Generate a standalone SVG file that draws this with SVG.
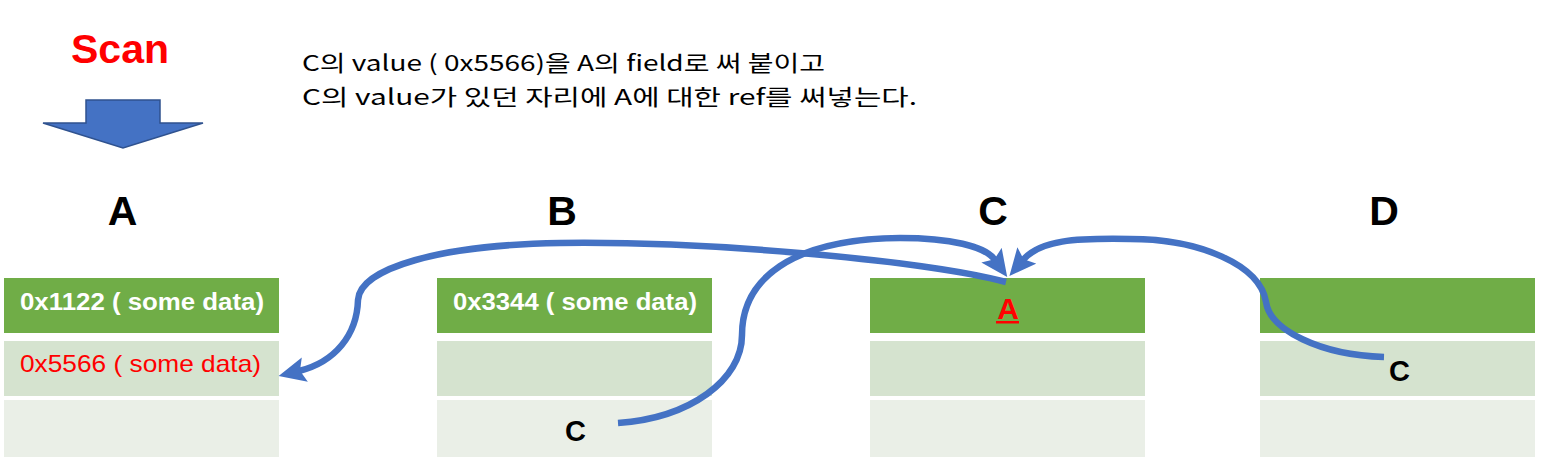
<svg xmlns="http://www.w3.org/2000/svg" width="1542" height="474" viewBox="0 0 1542 474">
<style>
.hdr{fill:#70AD47;stroke:#fff;stroke-width:2}
.r2{fill:#D5E3CF;stroke:#fff;stroke-width:2}
.r3{fill:#EAEFE7;stroke:#fff;stroke-width:2}
.col{font-family:"Liberation Sans",Arial,sans-serif;font-weight:bold;font-size:41px;fill:#000;text-anchor:middle}
.cell{font-family:"Liberation Sans",Arial,sans-serif;font-size:24px}
.wb{fill:#fff;font-weight:bold}
.lbl{font-family:"Liberation Sans",Arial,sans-serif;font-weight:bold;font-size:29px;fill:#000}
.kr{font-family:"Noto Sans CJK KR","Liberation Sans",sans-serif;font-size:22px;fill:#000}
.conn{fill:none;stroke:#4472C4;stroke-width:6.5}
</style>
<defs>
<marker id="ah" viewBox="0 0 27 25" refX="6" refY="12.5" markerWidth="27" markerHeight="25" markerUnits="userSpaceOnUse" orient="auto">
<path d="M0,0 L27,12.5 L0,25 L5,12.5 z" fill="#4472C4"/>
</marker>
</defs>

<g id="title">
<text x="120" y="63" font-family="'Liberation Sans',Arial,sans-serif" font-weight="bold" font-size="41" fill="#FF0000" text-anchor="middle">Scan</text>
</g>
<g id="scan-arrow">
<path d="M86,100 L160,100 L160,123 L203,123 L123,148 L43,123 L86,123 Z" fill="#4472C4" stroke="#2F528F" stroke-width="1.5"/>
</g>
<g id="note">
<text class="kr" x="302" y="71" textLength="523" lengthAdjust="spacingAndGlyphs">C의 value ( 0x5566)을 A의 field로 써 붙이고</text>
<text class="kr" x="302" y="105" textLength="615" lengthAdjust="spacingAndGlyphs">C의 value가 있던 자리에 A에 대한 ref를 써넣는다.</text>
</g>

<g id="obj-A">
<text class="col" x="122.5" y="225">A</text>
<rect class="hdr" x="3" y="277" width="277" height="57"/>
<rect class="r2" x="3" y="340" width="277" height="57"/>
<rect class="r3" x="3" y="399" width="277" height="59"/>
<text class="cell wb" x="20" y="310" textLength="244" lengthAdjust="spacingAndGlyphs">0x1122 ( some data)</text>
<text class="cell" x="20" y="372" fill="#FF0000" textLength="241" lengthAdjust="spacingAndGlyphs">0x5566 ( some data)</text>
</g>

<g id="obj-B">
<text class="col" x="562" y="225">B</text>
<rect class="hdr" x="436" y="277" width="277" height="57"/>
<rect class="r2" x="436" y="340" width="277" height="57"/>
<rect class="r3" x="436" y="399" width="277" height="59"/>
<text class="cell wb" x="453" y="310" textLength="244" lengthAdjust="spacingAndGlyphs">0x3344 ( some data)</text>
<text class="lbl" x="565" y="441">C</text>
</g>

<g id="obj-C">
<text class="col" x="993" y="225">C</text>
<rect class="hdr" x="869" y="277" width="277" height="57"/>
<rect class="r2" x="869" y="340" width="277" height="57"/>
<rect class="r3" x="869" y="399" width="277" height="59"/>
<text x="1008" y="319" font-family="'Liberation Sans',Arial,sans-serif" font-weight="bold" font-size="30" fill="#FF0000" text-anchor="middle">A</text>
<rect x="996" y="321" width="23" height="2.5" fill="#FF0000"/>
</g>

<g id="obj-D">
<text class="col" x="1384" y="225">D</text>
<rect class="hdr" x="1259" y="277" width="277" height="57"/>
<rect class="r2" x="1259" y="340" width="277" height="57"/>
<rect class="r3" x="1259" y="399" width="277" height="59"/>
<text class="lbl" x="1389" y="381">C</text>
</g>

<g id="connectors">
<path class="conn" d="M1006,282 C930,262 720,241 560,243 C440,245 360,268 358,300 C357,335 335,362 299,371" marker-end="url(#ah)"/>
<path class="conn" d="M618,423 C690,418 742,380 742,335 C742,280 790,239 900,238 C950,238 985,246 995,260" marker-end="url(#ah)"/>
<path class="conn" d="M1384,357 C1320,355 1270,330 1266,302 C1260,265 1200,239 1130,239 C1075,238 1040,240 1023,260" marker-end="url(#ah)"/>
</g>
</svg>
